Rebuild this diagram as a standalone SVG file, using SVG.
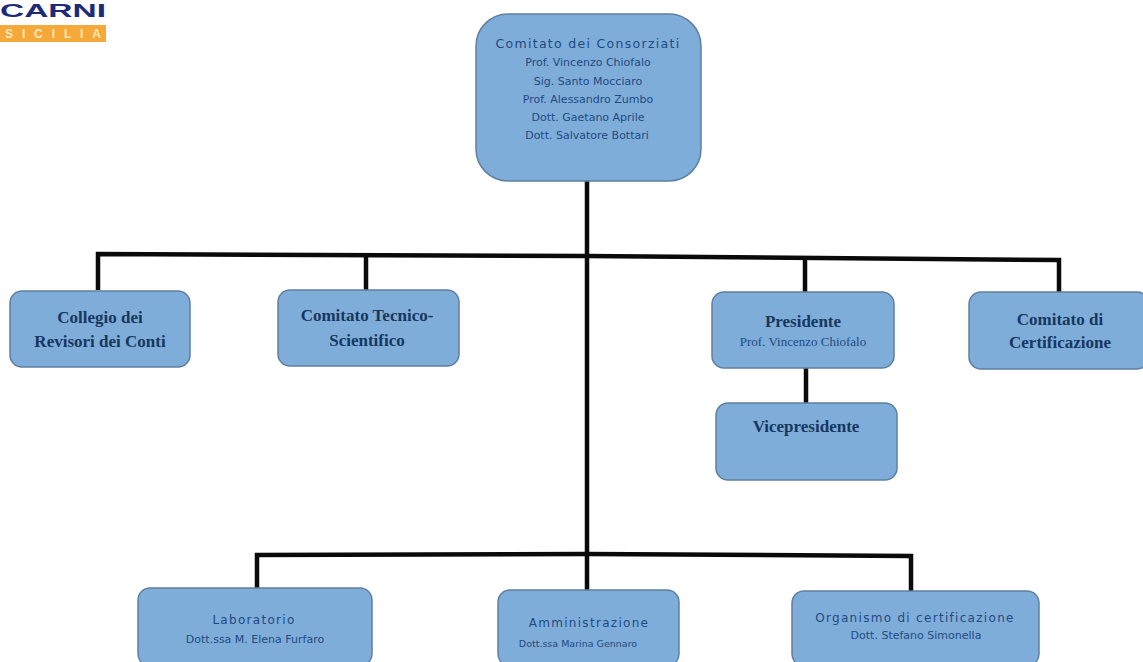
<svg xmlns="http://www.w3.org/2000/svg" width="1143" height="662" viewBox="0 0 1143 662">
<style>
.n{fill:#7fadda;stroke:#5f7f9f;stroke-width:1.5}
.c{stroke:#0a0a0a;stroke-width:4.5;fill:none}
text{text-anchor:middle;fill:#17375e}
.b{font-family:"Liberation Serif",serif;font-weight:bold;font-size:17px}
.s{font-family:"Liberation Serif",serif;font-size:13px;fill:#1f4a80}
.h{font-family:"DejaVu Sans",sans-serif;font-size:12.5px;letter-spacing:1.3px;fill:#1f4a80}
.t{font-family:"DejaVu Sans",sans-serif;font-size:11px;fill:#1f4a80}
</style>
<rect width="1143" height="662" fill="#fff"/>
<g id="logo">
<rect x="0" y="25" width="106" height="17" fill="#f5a93b"/>
<text x="53" y="17.3" textLength="106" lengthAdjust="spacingAndGlyphs" style="font-family:'Liberation Sans',sans-serif;font-weight:bold;font-size:19px;fill:#1c2a78">CARNI</text>
<text x="53" y="38" textLength="96" style="font-family:'Liberation Sans',sans-serif;font-weight:bold;font-size:12px;fill:#fde9b8">SICILIA</text>
</g>
<g id="connectors" class="c">
<path d="M587 180V640"/>
<path d="M98 290V254L587 256L1059 260V292"/>
<path d="M366 290V255"/>
<path d="M805 292V258"/>
<path d="M806 368V403"/>
<path d="M257 588V555L587 554L911 556V591"/>
</g>
<g id="n-consorziati"><rect class="n" x="476" y="14" width="225" height="167" rx="32"/>
<text class="h" x="588" y="48">Comitato dei Consorziati</text>
<text class="t" x="588" y="66">Prof. Vincenzo Chiofalo</text>
<text class="t" x="588" y="85">Sig. Santo Mocciaro</text>
<text class="t" x="588" y="103">Prof. Alessandro Zumbo</text>
<text class="t" x="588" y="121">Dott. Gaetano Aprile</text>
<text class="t" x="587" y="139">Dott. Salvatore Bottari</text></g>
<g id="n-collegio"><rect class="n" x="10" y="291" width="180" height="76" rx="12"/>
<text class="b" x="100" y="323">Collegio dei</text><text class="b" x="100" y="347">Revisori dei Conti</text></g>
<g id="n-tecnico"><rect class="n" x="278" y="290" width="181" height="76" rx="12"/>
<text class="b" x="367" y="321">Comitato Tecnico-</text><text class="b" x="367" y="346">Scientifico</text></g>
<g id="n-presidente"><rect class="n" x="712" y="292" width="182" height="76" rx="12"/>
<text class="b" x="803" y="327">Presidente</text><text class="s" x="803" y="346">Prof. Vincenzo Chiofalo</text></g>
<g id="n-certificazione"><rect class="n" x="969" y="292" width="180" height="77" rx="12"/>
<text class="b" x="1060" y="325">Comitato di</text><text class="b" x="1060" y="348">Certificazione</text></g>
<g id="n-vice"><rect class="n" x="716" y="403" width="181" height="77" rx="12"/>
<text class="b" x="806" y="432">Vicepresidente</text></g>
<g id="n-laboratorio"><rect class="n" x="138" y="588" width="234" height="78" rx="12"/>
<text class="h" x="254" y="624" style="font-size:12px">Laboratorio</text>
<text class="t" x="255" y="643">Dott.ssa M. Elena Furfaro</text></g>
<g id="n-amministrazione"><rect class="n" x="498" y="590" width="181" height="76" rx="12"/>
<text class="h" x="589" y="627" style="font-size:12px">Amministrazione</text>
<text class="t" x="578" y="647" style="font-size:9.5px">Dott.ssa Marina Gennaro</text></g>
<g id="n-organismo"><rect class="n" x="792" y="591" width="247" height="75" rx="12"/>
<text class="h" x="915" y="622" style="font-size:12px">Organismo di certificazione</text>
<text class="t" x="916" y="639">Dott. Stefano Simonella</text></g>
</svg>
